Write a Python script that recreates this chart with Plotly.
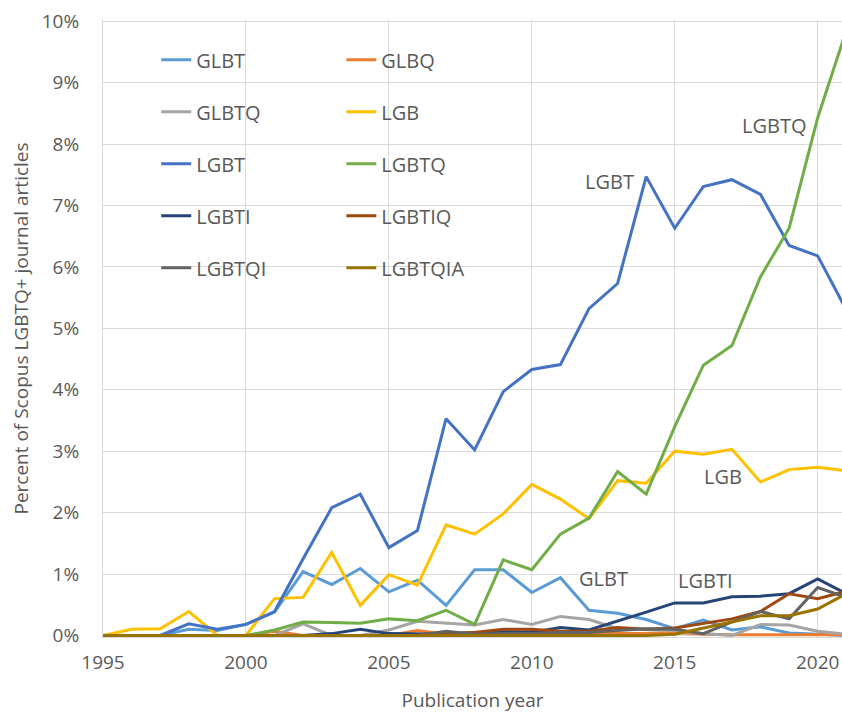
import plotly.graph_objects as go

years = list(range(1995, 2022))

glbt = [0, 0, 0, 0.1, 0.08, 0.18, 0.38, 1.04, 0.83, 1.09, 0.71, 0.9, 0.49, 1.07, 1.07, 0.7, 0.94, 0.41, 0.36, 0.26, 0.11, 0.25, 0.09, 0.14, 0.04, 0.02, 0.0]
glbq = [0, 0, 0, 0, 0, 0, 0.07, 0, 0, 0, 0, 0.08, 0.02, 0.03, 0.05, 0.07, 0.03, 0.03, 0.02, 0.03, 0.05, 0.02, 0.01, 0.01, 0.01, 0.01, 0.01]
glbtq = [0, 0, 0, 0, 0, 0, 0, 0.19, 0, 0, 0.09, 0.23, 0.2, 0.17, 0.26, 0.18, 0.31, 0.26, 0.11, 0.1, 0.08, 0.03, 0.0, 0.18, 0.17, 0.07, 0.02]
lgb = [0, 0.1, 0.11, 0.39, 0, 0, 0.6, 0.62, 1.35, 0.49, 0.99, 0.82, 1.8, 1.65, 1.98, 2.46, 2.22, 1.9, 2.52, 2.48, 3.0, 2.95, 3.03, 2.5, 2.7, 2.74, 2.68]
lgbt = [0, 0, 0, 0.19, 0.1, 0.18, 0.39, 1.25, 2.08, 2.3, 1.43, 1.71, 3.53, 3.02, 3.97, 4.33, 4.41, 5.32, 5.73, 7.47, 6.63, 7.31, 7.42, 7.18, 6.35, 6.18, 5.3]
lgbtq = [0, 0, 0, 0, 0, 0, 0.09, 0.22, 0.21, 0.2, 0.27, 0.24, 0.41, 0.18, 1.23, 1.07, 1.65, 1.91, 2.67, 2.3, 3.4, 4.4, 4.72, 5.84, 6.63, 8.43, 9.85]
lgbti = [0, 0, 0, 0, 0, 0, 0, 0, 0.03, 0.1, 0.03, 0.02, 0.02, 0.05, 0.06, 0.05, 0.13, 0.09, 0.23, 0.38, 0.53, 0.53, 0.63, 0.64, 0.68, 0.92, 0.68]
lgbtiq = [0, 0, 0, 0, 0, 0, 0, 0, 0, 0, 0, 0, 0.03, 0.05, 0.1, 0.1, 0.07, 0.07, 0.13, 0.1, 0.12, 0.2, 0.27, 0.39, 0.68, 0.6, 0.72]
lgbtqi = [0, 0, 0, 0, 0, 0, 0, 0, 0, 0, 0, 0, 0.07, 0.02, 0.03, 0.03, 0.05, 0.05, 0.08, 0.11, 0.1, 0.03, 0.22, 0.39, 0.27, 0.78, 0.62]
lgbtqia = [0, 0, 0, 0, 0, 0, 0, 0, 0, 0, 0, 0, 0, 0, 0, 0, 0, 0, 0, 0, 0.02, 0.12, 0.22, 0.32, 0.32, 0.43, 0.68]

series = [
    ("GLBT", glbt, "#5B9BD5", "legend"),
    ("GLBQ", glbq, "#ED7D31", "legend2"),
    ("GLBTQ", glbtq, "#A5A5A5", "legend"),
    ("LGB", lgb, "#FFC000", "legend2"),
    ("LGBT", lgbt, "#4472C4", "legend"),
    ("LGBTQ", lgbtq, "#70AD47", "legend2"),
    ("LGBTI", lgbti, "#264478", "legend"),
    ("LGBTIQ", lgbtiq, "#9E480E", "legend2"),
    ("LGBTQI", lgbtqi, "#636363", "legend"),
    ("LGBTQIA", lgbtqia, "#997300", "legend2"),
]

# label name, x (year), y (percent)
labels = [
    ("LGBTQ", 2018.47, 8.3),
    ("LGBT", 2012.72, 7.39),
    ("LGB", 2016.69, 2.58),
    ("GLBT", 2012.49, 0.92),
    ("LGBTI", 2016.07, 0.9),
]

font_family = "Open Sans"
text_color = "#595959"
grid_color = "#D9D9D9"

fig = go.Figure()
for name, vals, color, leg in series:
    fig.add_trace(go.Scatter(x=years, y=vals, name=name, mode="lines",
                             line=dict(color=color, width=3),
                             legend=leg, legendgroup=name))

for text, x, y in labels:
    fig.add_annotation(x=x, y=y, text=text, showarrow=False,
                       font=dict(size=20, color=text_color, family=font_family))

# white box behind the legend hides the gridlines, as in the original
fig.add_shape(type="rect", xref="paper", yref="paper", x0=0.0325, x1=0.533, y0=0.551, y1=0.972,
              fillcolor="white", line=dict(width=0), layer="between")

legend_style = dict(yanchor="top", xanchor="left", bgcolor="rgba(255,255,255,0)",
                    traceorder="grouped", tracegroupgap=23,
                    font=dict(size=20, color=text_color, family=font_family))

fig.update_layout(
    width=842, height=713,
    margin=dict(l=103, r=0, t=20, b=76, autoexpand=False),
    paper_bgcolor="white", plot_bgcolor="white",
    font=dict(family=font_family, color=text_color, size=19),
    legend=dict(x=0.072, y=0.967, **legend_style),
    legend2=dict(x=0.3225, y=0.967, **legend_style),
    xaxis=dict(range=[1995, 2020.85], dtick=5, tick0=1995, showgrid=True, gridcolor=grid_color,
               showline=True, linecolor=grid_color, zeroline=False, ticks="",
               automargin=False, ticklabelstandoff=8, ticklabeloverflow="allow",
               title=dict(text="Publication year", standoff=20, font=dict(size=19))),
    yaxis=dict(range=[-0.025, 10.02], dtick=1, ticksuffix="%", showgrid=True, gridcolor=grid_color,
               showline=True, linecolor=grid_color, zeroline=False, ticks="",
               automargin=False, ticklabelstandoff=19, ticklabeloverflow="allow",
               title=dict(text="Percent of Scopus LGBTQ+ journal articles", standoff=8,
                          font=dict(size=19))),
)

# drop the browser's default 8px body margin so the figure fills the window
fig.write_html("out.html", config={"displayModeBar": False},
               post_script="document.body.style.margin = '0px';")
